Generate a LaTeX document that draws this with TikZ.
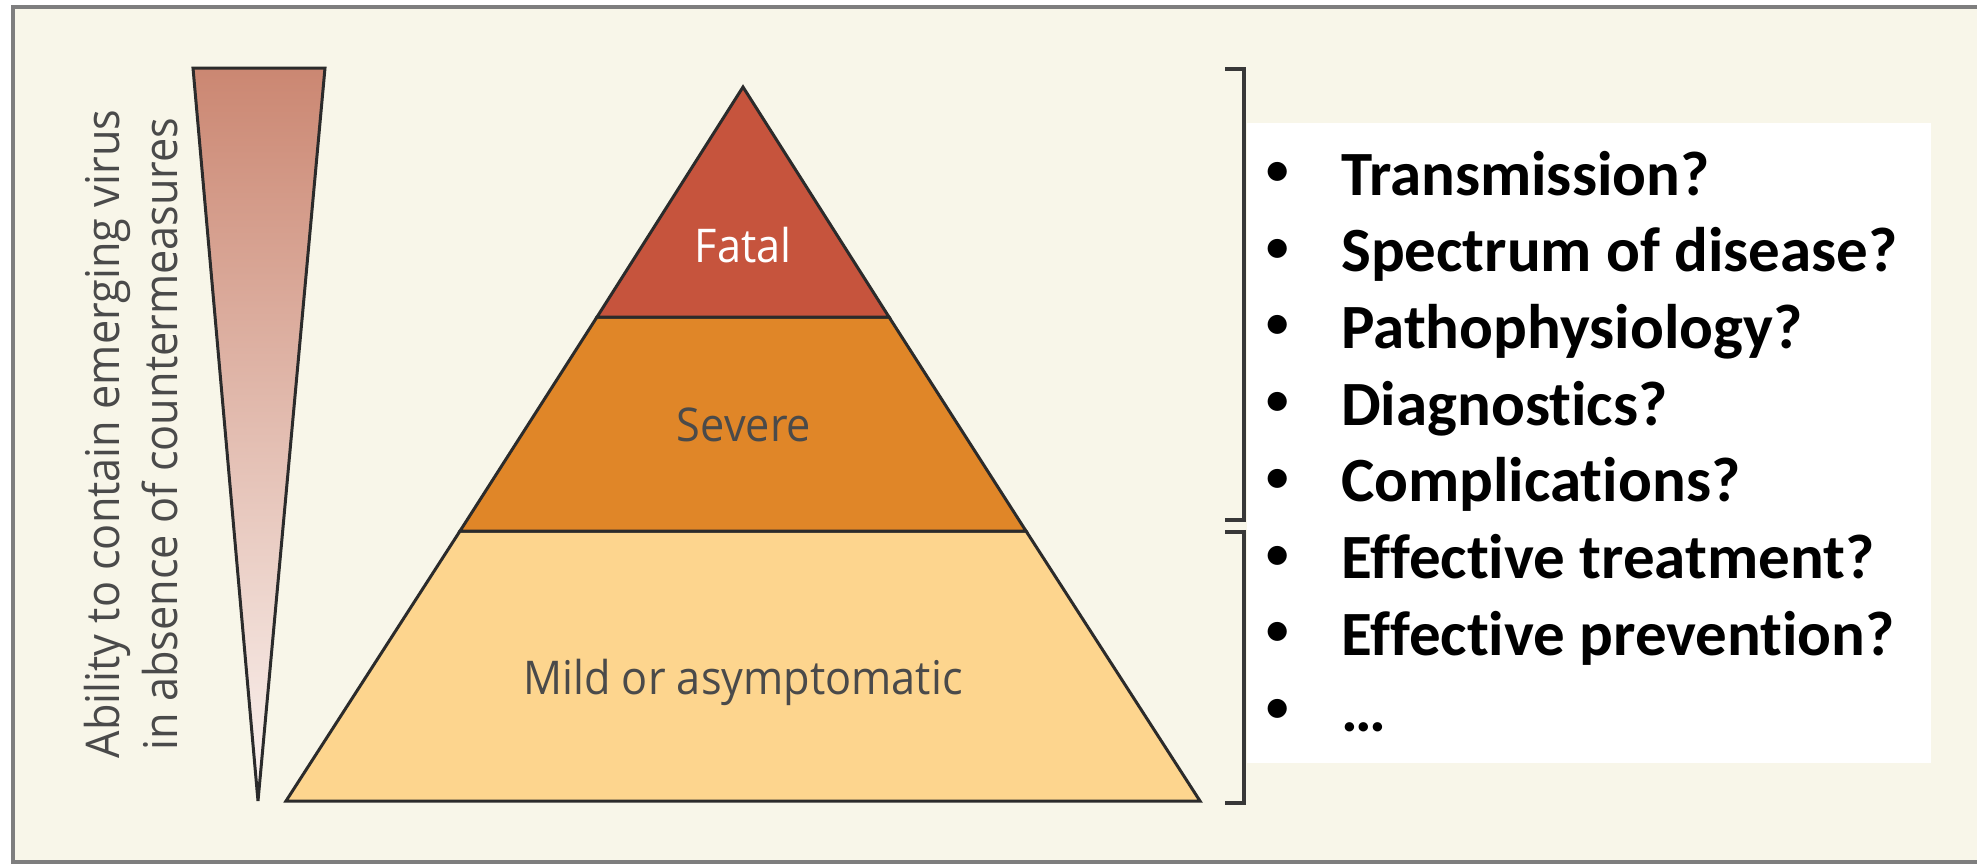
\documentclass[tikz,border=0pt]{standalone}
\usepackage{fontspec}
\setmainfont{Open Sans}
\newfontfamily\labelfont[FakeStretch=0.93]{Open Sans}
\newfontfamily\listfont[Ligatures=NoCommon]{Carlito}
\definecolor{paper}{HTML}{F8F6E9}
\definecolor{framegray}{HTML}{7E7E7E}
\definecolor{outline}{HTML}{2B2B2B}
\definecolor{fatalfill}{HTML}{C6543D}
\definecolor{severefill}{HTML}{E08628}
\definecolor{mildfill}{HTML}{FDD58E}
\definecolor{wedgetop}{HTML}{CB8772}
\definecolor{wedgebot}{HTML}{FBF4F1}
\definecolor{labelgray}{HTML}{4A4A4A}
\definecolor{bracketgray}{HTML}{383838}
\tikzset{
  tier/.style={draw=outline, line width=3pt, line join=miter},
  tierlabel/.style={font=\labelfont\fontsize{46.5}{54}\selectfont, inner sep=0pt},
  bracketline/.style={draw=bracketgray, line width=3.5pt, line join=miter},
  bulletmark/.style={font=\listfont\bfseries\fontsize{45}{50}\selectfont, anchor=base, inner sep=0pt},
  itemtext/.style={font=\listfont\bfseries\fontsize{63}{76}\selectfont, anchor=base west, inner sep=0pt},
}
\begin{document}
\begin{tikzpicture}[x=1pt,y=-1pt]
  \useasboundingbox (0,0) rectangle (1977,865);
  % page and framed panel
  \fill[white] (0,0) rectangle (1977,865);
  \begin{scope}
    \clip (0,0) rectangle (1977,865);
    \fill[paper] (13,7) rectangle (2000,862);
    \draw[framegray, line width=4.5pt] (13,7) rectangle (2000,862);
  \end{scope}

  % wedge: ability to contain the virus
  \path[draw=outline, line width=3pt, line join=miter, top color=wedgetop, bottom color=wedgebot]
    (193,68) -- (325,68) -- (258,801) -- cycle;
  \node[font=\labelfont\fontsize{46.5}{58}\selectfont, text=labelgray, rotate=90,
        align=center, inner sep=0pt] (ability) at (131,434)
    {Ability to contain emerging virus\\in absence of countermeasures};

  % pyramid tiers
  \coordinate (apex) at (743,87);
  \coordinate (fl) at (597,317);
  \coordinate (fr) at (889,317);
  \coordinate (sl) at (460,531);
  \coordinate (sr) at (1026,531);
  \coordinate (bl) at (286,801);
  \coordinate (br) at (1200,801);
  \path[tier, fill=mildfill] (sl) -- (sr) -- (br) -- (bl) -- cycle;
  \path[tier, fill=severefill] (fl) -- (fr) -- (sr) -- (sl) -- cycle;
  \path[tier, fill=fatalfill] (apex) -- (fr) -- (fl) -- cycle;
  \node[tierlabel, text=white] (fatal) at (743,245) {Fatal};
  \node[tierlabel, text=labelgray] (severe) at (744,425) {Severe};
  \node[tierlabel, text=labelgray] (mild) at (743,682) {Mild or asymptomatic};

  % brackets
  \draw[bracketline] (1225,69) -- (1244,69) -- (1244,520) -- (1225,520);
  \draw[bracketline] (1225,532) -- (1244,532) -- (1244,803) -- (1225,803);

  % open questions
  \fill[white] (1247,123) rectangle (1931,763);
  \foreach \txt [count=\i from 0] in {Transmission?, Spectrum of disease?,
      Pathophysiology?, Diagnostics?, Complications?, Effective treatment?,
      Effective prevention?, …}{
    \node[bulletmark] (b\i) at (1278,184.5+76.7*\i) {\textbullet};
    \node[itemtext] (q\i) at (1341,195+76.7*\i) {\txt};
  }
\end{tikzpicture}
\end{document}
